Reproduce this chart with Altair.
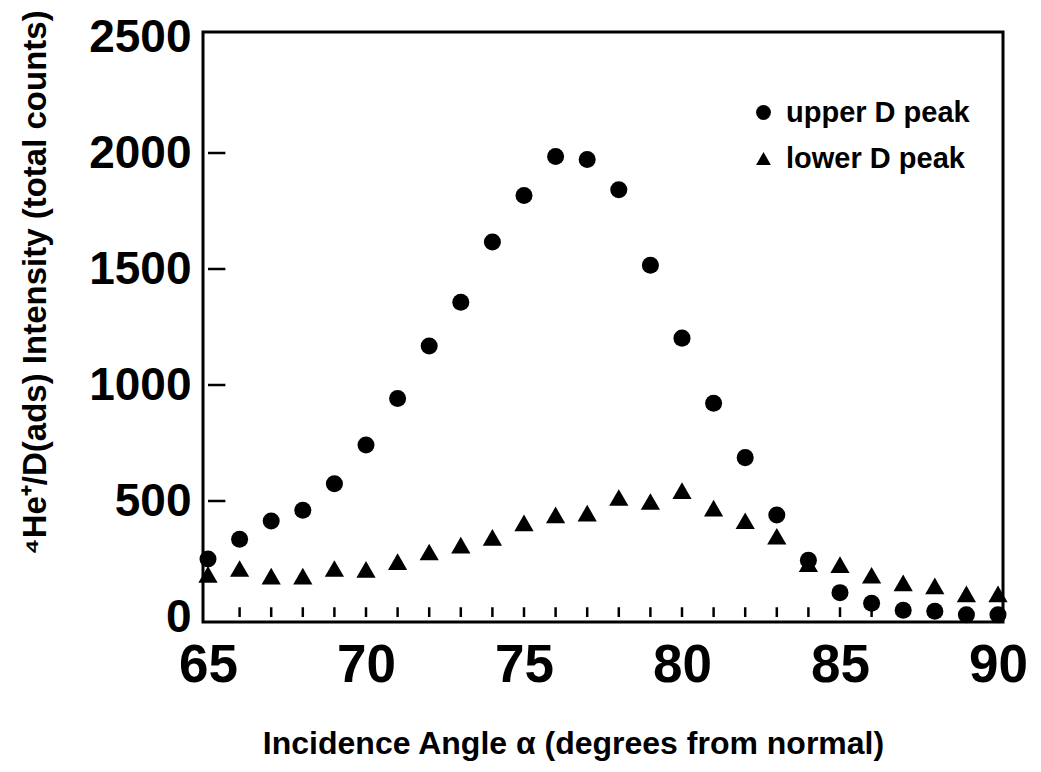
import altair as alt
import pandas as pd

angles = list(range(65, 91))
upper = [250, 335, 414, 460, 574, 741, 942, 1168, 1357, 1616, 1817, 1985, 1972,
         1842, 1516, 1202, 921, 687, 440, 245, 105, 59, 29, 25, 10, 10]
lower = [184, 209, 176, 176, 209, 205, 239, 280, 310, 343, 406, 440, 448,
         515, 498, 545, 469, 415, 348, 230, 226, 180, 147, 134, 100, 100]
series = ["upper D peak", "lower D peak"]
x_ticks = [65, 70, 75, 80, 85, 90]
y_ticks = [0, 500, 1000, 1500, 2000, 2500]
minor_x = list(range(66, 90))
major_y = [500, 1000, 1500, 2000]

FONT = "Liberation Sans"

df = pd.DataFrame({
    "angle": angles * 2,
    "value": upper + lower,
    "series": [series[0]] * len(angles) + [series[1]] * len(angles),
})

xscale = alt.Scale(domain=[65, 90], nice=False, zero=False)
yscale = alt.Scale(domain=[0, 2500], nice=False)

xaxis = alt.Axis(values=x_ticks, tickSize=0, domain=False, grid=False, format="d",
                 labelFlush=False, labelOverlap=False,
                 labelFontSize=53, labelFont=FONT, labelFontWeight="bold",
                 labelPadding=17, labelColor="black",
                 title="Incidence Angle α (degrees from normal)",
                 titleFont=FONT, titleFontSize=32, titleFontWeight="bold",
                 titlePadding=36, titleX=370, titleColor="black")
yaxis = alt.Axis(values=y_ticks, tickSize=0, domain=False, grid=False, format="d",
                 labelFlush=False, labelOverlap=False,
                 labelFontSize=46, labelFont=FONT, labelFontWeight="bold",
                 labelPadding=12, labelColor="black",
                 title="⁴He⁺/D(ads) Intensity (total counts)",
                 titleFont=FONT, titleFontSize=33, titleFontWeight="bold",
                 titlePadding=36, titleY=250, titleColor="black")

shape_enc = alt.Shape("series:N",
                      scale=alt.Scale(domain=series, range=["circle", "triangle-up"]),
                      legend=alt.Legend(title=None, orient="none", legendX=546, legendY=66,
                                        labelFont=FONT, labelFontSize=29, labelFontWeight="bold",
                                        labelColor="black", symbolFillColor="black",
                                        symbolStrokeColor="black", symbolSize=220, labelLimit=0,
                                        symbolOpacity=1, rowPadding=16, labelOffset=8))

base = alt.Chart(df).encode(
    x=alt.X("angle:Q", scale=xscale, axis=xaxis),
    y=alt.Y("value:Q", scale=yscale, axis=yaxis),
    shape=shape_enc,
)
circles = base.transform_filter(alt.datum.series == series[0]).mark_point(
    filled=True, color="black", opacity=1, size=290)
triangles = base.transform_filter(alt.datum.series == series[1]).mark_point(
    filled=True, color="black", opacity=1, size=370)

bt = pd.DataFrame({"tx": minor_x, "ya": [0.0] * len(minor_x), "yb": [42.0] * len(minor_x)})
bottom_ticks = alt.Chart(bt).mark_bar(color="black", size=2.5, opacity=1).encode(
    x=alt.X("tx:Q", scale=xscale),
    y=alt.Y("ya:Q", scale=yscale),
    y2=alt.Y2("yb:Q"))

lt = pd.DataFrame({"ty": major_y, "xa": [65.0] * len(major_y), "xb": [65.55] * len(major_y)})
left_ticks = alt.Chart(lt).mark_bar(color="black", size=2.5, opacity=1).encode(
    y=alt.Y("ty:Q", scale=yscale),
    x=alt.X("xa:Q", scale=xscale),
    x2=alt.X2("xb:Q"))

chart = alt.layer(circles, triangles, bottom_ticks, left_ticks).properties(
    width=800, height=590,
    autosize=alt.AutoSizeParams(type="none"),
    padding={"left": 195, "top": 24, "right": 30, "bottom": 140},
    background="white",
).configure_view(stroke="black", strokeWidth=3)

chart.save("out.html", embed_options={"renderer": "svg", "actions": False})
